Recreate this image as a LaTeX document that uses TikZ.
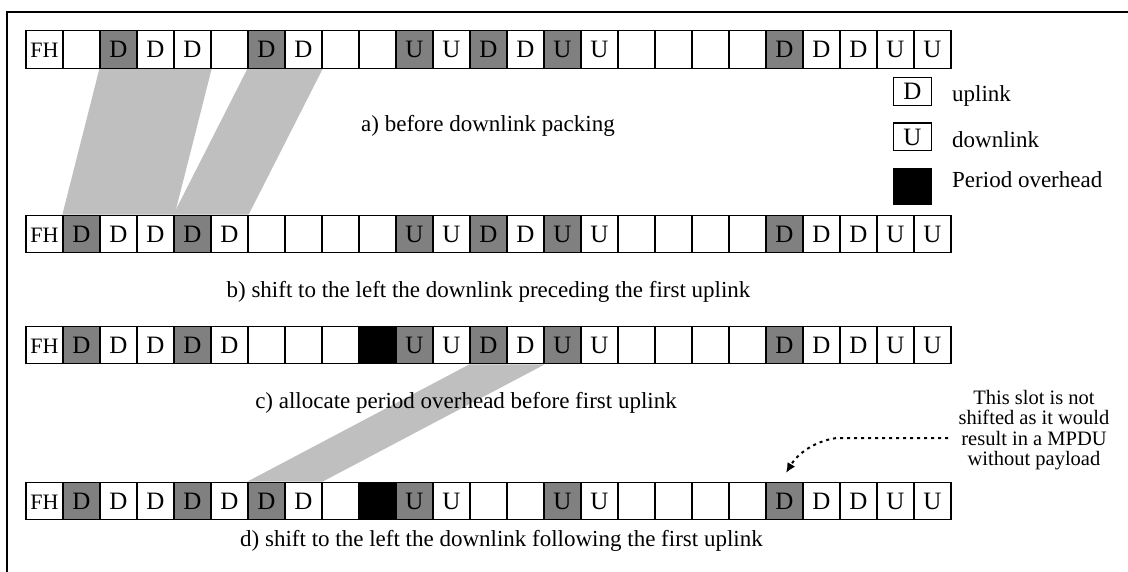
\documentclass[tikz,border=0pt]{standalone}
\usepackage{fontspec}
\setmainfont{Liberation Serif}
\usetikzlibrary{arrows.meta,backgrounds}
\definecolor{slotgray}{gray}{0.5}
\definecolor{shiftgray}{gray}{0.75}
\newcommand\fhfont{\fontsize{22}{22}\selectfont}
\tikzset{
  cell/.style={draw, line width=1.3pt, minimum width=37pt, minimum height=37.5pt,
    inner sep=0pt, font=\fontsize{25}{25}\selectfont, text height=16.5pt, text depth=0pt},
  cw/.style={fill=white},
  cg/.style={fill=slotgray},
  cb/.style={fill=black},
  lab/.style={font=\fontsize{23}{27}\selectfont, inner sep=0pt, anchor=base},
  legbox/.style={draw, line width=1.3pt, minimum width=38.4pt, inner sep=0pt,
    font=\fontsize{25}{25}\selectfont, text height=16.5pt, text depth=0pt},
  legtext/.style={font=\fontsize{23}{23}\selectfont, inner sep=0pt, anchor=base west},
  shiftband/.style={fill=shiftgray, draw=none},
  notetext/.style={font=\fontsize{20.5}{20.5}\selectfont, align=center, inner sep=0pt},
  dotarrow/.style={line width=2pt, dash pattern=on 3pt off 4pt,
    -{Latex[length=10pt,width=9pt]}}
}
\begin{document}
\begin{tikzpicture}[x=1pt,y=-1pt]
\useasboundingbox (0,0) rectangle (1128,572);
% frame
\draw[line width=2.5pt] (7,572) -- (7,12) -- (1128,12);
% rows
\foreach \f/\t [count=\i from 0] in {w/{\fhfont FH}, w/{}, g/D, w/D, w/D, w/{}, g/D, w/D, w/{}, w/{}, g/U, w/U, g/D, w/D, g/U, w/U, w/{}, w/{}, w/{}, w/{}, g/D, w/D, w/D, w/U, w/U}
  \node[cell, c\f] (a\i) at ({44.5+37*\i}, 49.5) {\t};
\foreach \f/\t [count=\i from 0] in {w/{\fhfont FH}, g/D, w/D, w/D, g/D, w/D, w/{}, w/{}, w/{}, w/{}, g/U, w/U, g/D, w/D, g/U, w/U, w/{}, w/{}, w/{}, w/{}, g/D, w/D, w/D, w/U, w/U}
  \node[cell, c\f] (b\i) at ({44.5+37*\i}, 234) {\t};
\foreach \f/\t [count=\i from 0] in {w/{\fhfont FH}, g/D, w/D, w/D, g/D, w/D, w/{}, w/{}, w/{}, b/{}, g/U, w/U, g/D, w/D, g/U, w/U, w/{}, w/{}, w/{}, w/{}, g/D, w/D, w/D, w/U, w/U}
  \node[cell, c\f] (c\i) at ({44.5+37*\i}, 345) {\t};
\foreach \f/\t [count=\i from 0] in {w/{\fhfont FH}, g/D, w/D, w/D, g/D, w/D, g/D, w/D, w/{}, b/{}, g/U, w/U, w/{}, w/{}, g/U, w/U, w/{}, w/{}, w/{}, w/{}, g/D, w/D, w/D, w/U, w/U}
  \node[cell, c\f] (d\i) at ({44.5+37*\i}, 501) {\t};
% shift bands
\begin{pgfonlayer}{background}
  \fill[shiftband] (a2.south west) -- (a4.south east) -- (b3.north east) -- (b1.north west) -- cycle;
  \fill[shiftband] (a6.south west) -- (a7.south east) -- (b5.north east) -- (b4.north west) -- cycle;
  \fill[shiftband] (c12.south west) -- (c13.south east) -- (d7.north east) -- (d6.north west) -- cycle;
\end{pgfonlayer}
% captions
\node[lab] (la) at (488,131.5) {a) before downlink packing};
\node[lab] (lb) at (488.5,298) {b) shift to the left the downlink preceding the first uplink};
\node[lab] (lc) at (466,408) {c) allocate period overhead before first uplink};
\node[lab] (ld) at (501.5,546) {d) shift to the left the downlink following the first uplink};
% legend
\node[legbox, minimum height=28.4pt] (legD) at (912.5,91.5) {D};
\node[legbox, minimum height=27.7pt] (legU) at (912.5,137) {U};
\node[legbox, fill=black, minimum width=37pt, minimum height=36pt] (legB) at (912.5,186.3) {};
\node[legtext] (tD) at (952,101.5) {uplink};
\node[legtext] (tU) at (952,147.5) {downlink};
\node[legtext] (tB) at (952,188) {Period overhead};
% note
\node[notetext] (note) at (1034,430) {This slot is not\\shifted as it would\\result in a MPDU\\without payload};
\coordinate (nstart) at (948,438);
\coordinate (nbend) at (837,438);
\coordinate (ntip) at (786,473);
\draw[dotarrow] (nstart) -- (nbend) .. controls (820,440) and (800,450) .. (ntip);
\end{tikzpicture}
\end{document}
